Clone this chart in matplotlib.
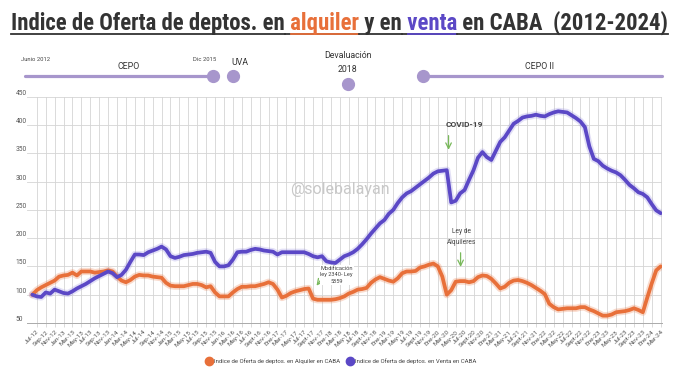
import matplotlib
matplotlib.use("Agg")
import matplotlib.pyplot as plt
from matplotlib import font_manager
from matplotlib.lines import Line2D

# monthly index, starting Jun-2012 (0) up to Mar-2024 (141)
alquiler = [
    100, 108, 113, 117, 121, 125, 132, 134, 135, 139, 134, 141,
    141, 141, 139, 140, 141, 143, 141, 132, 125, 122, 126, 132,
    135, 134, 134, 132, 131, 130, 121, 116, 115, 115, 115, 117,
    119, 119, 117, 113, 115, 104, 97, 97, 97, 104, 110, 114,
    114, 115, 115, 117, 119, 122, 119, 109, 95, 98, 103, 106,
    108, 110, 111, 93, 91, 91, 91, 91, 92, 94, 97, 102,
    105, 109, 110, 112, 121, 127, 131, 128, 125, 123, 129, 138,
    141, 141, 142, 148, 150, 153, 155, 150, 132, 100, 108, 123,
    124, 124, 122, 124, 131, 134, 133, 128, 120, 111, 114, 121,
    125, 126, 124, 121, 117, 112, 107, 101, 84, 78, 74, 75,
    76, 76, 76, 78, 78, 74, 71, 67, 63, 63, 65, 69,
    70, 71, 73, 76, 73, 69, 95, 120, 143, 150,
]
venta = [
    100, 97, 96, 104, 102, 109, 106, 103, 102, 106, 111, 115,
    119, 124, 129, 133, 137, 141, 138, 131, 135, 144, 158, 171,
    171, 170, 175, 178, 181, 185, 180, 168, 165, 167, 170, 171,
    172, 174, 175, 176, 174, 158, 150, 150, 152, 162, 175, 176,
    176, 179, 181, 180, 178, 177, 176, 171, 175, 175, 175, 175,
    175, 175, 172, 168, 166, 168, 159, 157, 156, 162, 168, 171,
    175, 181, 189, 198, 208, 217, 226, 232, 243, 250, 262, 272,
    279, 283, 289, 295, 301, 307, 314, 318, 319, 320, 263, 266,
    279, 285, 303, 320, 342, 352, 343, 338, 354, 370, 378, 390,
    402, 407, 413, 415, 416, 418, 416, 415, 419, 422, 424, 423,
    422, 417, 412, 406, 396, 362, 340, 336, 328, 323, 319, 316,
    311, 303, 294, 288, 281, 278, 272, 260, 249, 244,
]
tick_labels = [
    "Jul-12", "Sep-12", "Nov-12", "Jan-13", "Mar-13", "May-13", "Jul-13", "Sep-13",
    "Nov-13", "Jan-14", "Mar-14", "May-14", "Jul-14", "Sep-14", "Nov-14", "Jan-15",
    "Mar-15", "May-15", "Jul-15", "Sep-15", "Nov-15", "Jan-16", "Mar-16", "May-16",
    "Jul-16", "Sept-16", "Nov-16", "Ene-17", "Mar-17", "May-17", "Jul-17", "Sept-17",
    "Nov-17", "Ene-18", "Mar-18", "May-18", "Jul-18", "Sept-18", "Nov-18", "Ene-19",
    "Mar-19", "May-19", "Jul-19", "Sept-19", "Nov-19", "Ene-20", "Mar-20", "May-20",
    "Jul-20", "Sept-20", "Nov-20", "Ene-21", "Mar-21", "May-21", "Jul-21", "Sept-21",
    "Nov-21", "Ene-22", "Mar-22", "May-22", "Jul-22", "Sept-22", "Nov-22", "Ene-23",
    "Mar-23", "May-23", "Jul-23", "Sept-23", "Nov-23", "Ene-24", "Mar-24",
]
y_ticks = [50, 100, 150, 200, 250, 300, 350, 400, 450]

ORANGE = "#E8703A"
PURPLE = "#5B48C6"
LAVENDER = "#A796CC"
GREEN = "#78B85A"
DARK = "#333333"
GRID = "#d4d4d4"


def pick_font(names, default="Roboto"):
    for n in names:
        try:
            font_manager.findfont(n, fallback_to_default=False)
            return n
        except Exception:
            pass
    return default


BASE = pick_font(["Roboto", "Lato"], "DejaVu Sans")
NARROW = pick_font(["Liberation Sans Narrow", "Roboto Condensed"], BASE)
plt.rcParams["font.family"] = [BASE, "DejaVu Sans"]

fig = plt.figure(figsize=(6.8, 3.73), dpi=100)
ax = fig.add_axes([27 / 680, 1 - 323 / 373, (662 - 27) / 680, (323 - 96.6) / 373])

months = list(range(len(venta)))
ax.plot(months, alquiler, color=ORANGE, lw=5.2, alpha=0.25, solid_capstyle="round", zorder=3)
ax.plot(months, alquiler, color=ORANGE, lw=2.7, solid_capstyle="round", zorder=4)
ax.plot(months, venta, color="#8f84dd", lw=5.2, alpha=0.25, solid_capstyle="round", zorder=3)
ax.plot(months, venta, color=PURPLE, lw=2.7, solid_capstyle="round", zorder=4)

ax.set_xlim(-1.2, 141.3)
ax.set_ylim(50, 450)
ax.set_xticks(range(1, len(venta), 2))
ax.set_xticklabels(tick_labels, rotation=45, ha="right", rotation_mode="anchor",
                   fontsize=4.6, color="#555555")
ax.set_yticks(y_ticks)
ax.set_yticklabels([str(v) for v in y_ticks], fontsize=4.8, color="#555555",
                   ha="left", va="bottom")
ax.tick_params(axis="y", length=0, pad=8)
ax.tick_params(axis="x", length=3, color=GRID, width=0.6, pad=1.5)
ax.grid(True, color=GRID, lw=0.6)
ax.set_axisbelow(True)
for s in ["top", "right", "left"]:
    ax.spines[s].set_visible(False)
ax.spines["bottom"].set_color("#aaaaaa")
ax.spines["bottom"].set_linewidth(0.7)

# watermark
ax.text(69, 285, "@solebalayan", fontsize=11.5, color="#c8c8c8", ha="center", va="center",
        zorder=2)

# annotations
ax.text(97, 400, "COVID-19", fontsize=6, fontweight="bold", color="#444444",
        ha="center", va="center")
ax.annotate("", xy=(93.4, 351), xytext=(93.4, 386),
            arrowprops=dict(arrowstyle="->", color=GREEN, lw=0.9))
ax.text(96.3, 202, "Ley de\nAlquileres", fontsize=4.8, color="#444444", ha="center",
        va="center", linespacing=1.7)
ax.annotate("", xy=(96.1, 144), xytext=(96.1, 179),
            arrowprops=dict(arrowstyle="->", color=GREEN, lw=0.9))
ax.text(68.3, 135, "Modificación\nley 2340- Ley\n5859", fontsize=4.1, color="#444444",
        ha="center", va="center", linespacing=1.4, zorder=5,
        bbox=dict(boxstyle="square,pad=0.15", fc="white", ec="none"))
ax.annotate("", xy=(63.4, 112), xytext=(65.2, 131),
            arrowprops=dict(arrowstyle="->", color=GREEN, lw=0.9))

# timeline on top
tl = dict(clip_on=False, zorder=6)
ax.plot([-1.6, 40.5], [486, 486], color=LAVENDER, lw=2.3, solid_capstyle="round", **tl)
ax.plot([87.6, 141.2], [486, 486], color=LAVENDER, lw=2.3, solid_capstyle="round", **tl)
ax.plot([40.5, 45, 87.6], [486, 486, 486], "o", color=LAVENDER, ms=8.5, **tl)
ax.plot([70.8], [472], "o", color=LAVENDER, ms=8.5, **tl)
ax.text(0.6, 515, "Junio 2012", fontsize=4.2, color="#444444", ha="center", va="center", **tl)
ax.text(21.5, 504, "CEPO", fontsize=6.3, color="#333333", ha="center", va="center", **tl)
ax.text(38.7, 515, "Dic 2015", fontsize=4.2, color="#444444", ha="center", va="center", **tl)
ax.text(46.5, 511, "UVA", fontsize=6.3, color="#333333", ha="center", va="center", **tl)
ax.text(70.8, 522, "Devaluación", fontsize=6.3, color="#333333", ha="center", va="center", **tl)
ax.text(70.8, 497, "2018", fontsize=6.3, color="#333333", ha="center", va="center", **tl)
ax.text(113.8, 504, "CEPO II", fontsize=6.3, color="#333333", ha="center", va="center", **tl)

# legend
handles = [
    Line2D([], [], marker="o", ls="none", color=ORANGE, ms=6,
           label="Indice de Oferta de deptos. en Alquiler en CABA"),
    Line2D([], [], marker="o", ls="none", color=PURPLE, ms=6,
           label="Indice de Oferta de deptos. en Venta en CABA"),
]
leg = fig.legend(handles=handles, loc="center", bbox_to_anchor=(341 / 680, 1 - 361 / 373),
                 ncol=2, frameon=False, fontsize=4.3, handletextpad=0.3,
                 columnspacing=1.2, handlelength=1.0)
for t in leg.get_texts():
    t.set_color("#444444")

# title with coloured words, underlined
pieces = [
    ("Indice de Oferta de deptos. en", DARK),
    (" alquiler", ORANGE),
    (" y en", DARK),
    (" venta", PURPLE),
    (" en CABA  (2012-2024)", DARK),
]
renderer = fig.canvas.get_renderer()
probe = fig.text(0, 0, "".join(p for p, _ in pieces), fontsize=10, fontweight="bold",
                 family=NARROW, transform=None)
w10 = probe.get_window_extent(renderer).width
probe.remove()
tsize = 10 * 660 / w10
space_w = 0.28 * tsize * 100 / 72

x = 11
base_y = 373 - 30
for txt, col in pieces:
    t = fig.text(x, base_y, txt, fontsize=tsize, fontweight="bold", family=NARROW,
                 color=col, va="baseline", ha="left", transform=None)
    bb = t.get_window_extent(renderer)
    x0 = bb.x0 if col == DARK else bb.x0 + space_w
    fig.add_artist(Line2D([bb.x0, bb.x1], [base_y - 4, base_y - 4], color=DARK, lw=1.3,
                          transform=None))
    if col != DARK:
        fig.add_artist(Line2D([x0, bb.x1], [base_y - 4, base_y - 4], color=col, lw=1.3,
                              transform=None))
    x = bb.x1

fig.savefig("out.png", dpi=100)
